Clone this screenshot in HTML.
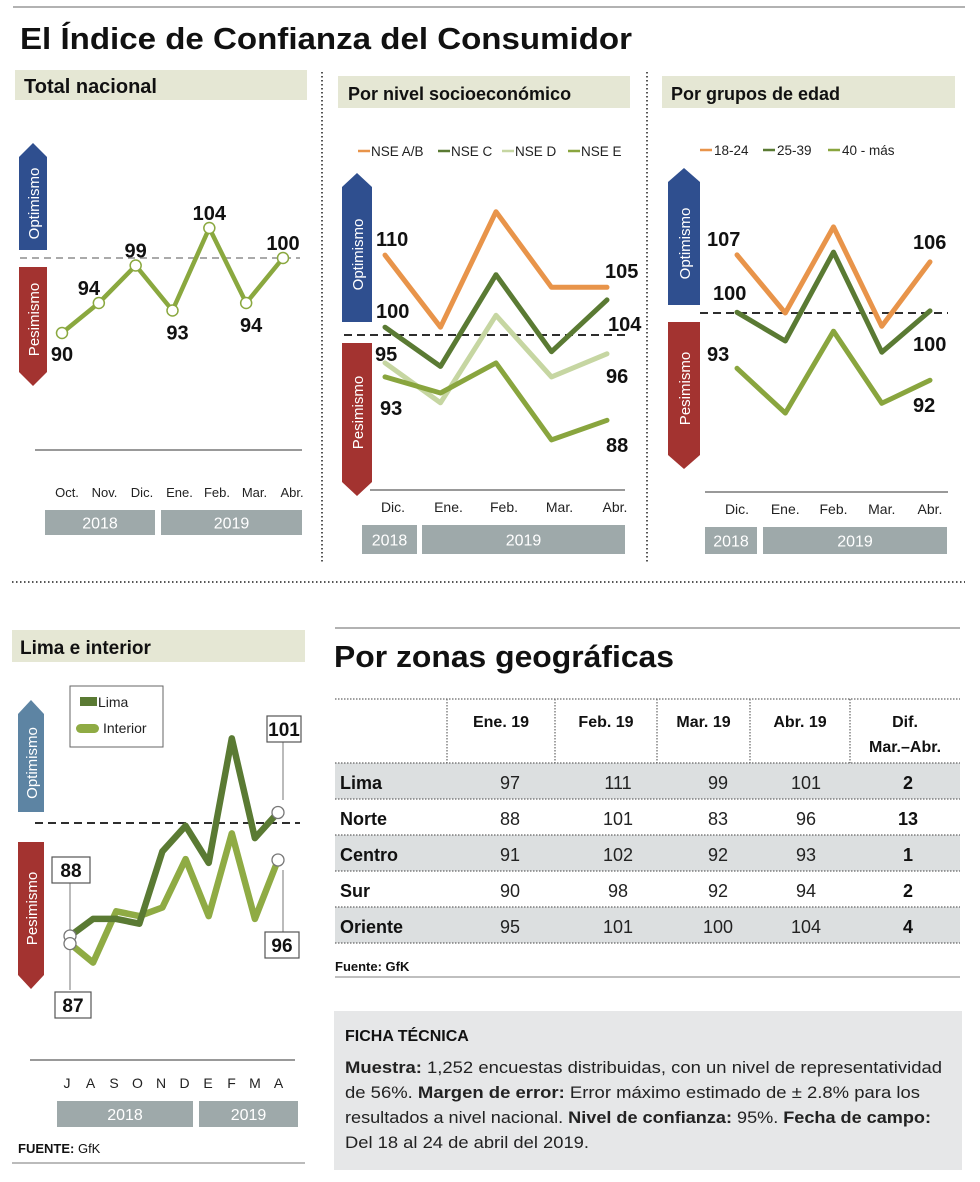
<!DOCTYPE html>
<html><head><meta charset="utf-8">
<style>
html,body{margin:0;padding:0;background:#fff;}
svg{display:block;font-family:"Liberation Sans",sans-serif;}
.b{font-weight:bold;}
</style></head>
<body>
<svg id="s" width="980" height="1182" viewBox="0 0 980 1182" xmlns="http://www.w3.org/2000/svg">
<line x1="13" y1="7" x2="965" y2="7" stroke="#999" stroke-width="1.5"/>
<text x="20" y="49" font-size="31" class="b" fill="#111" textLength="612" lengthAdjust="spacingAndGlyphs">El Índice de Confianza del Consumidor</text>

<line x1="322" y1="72" x2="322" y2="562" stroke="#555" stroke-width="2" stroke-dasharray="1.5,2.5"/>
<line x1="647" y1="72" x2="647" y2="562" stroke="#555" stroke-width="2" stroke-dasharray="1.5,2.5"/>
<line x1="12" y1="582" x2="965" y2="582" stroke="#555" stroke-width="2" stroke-dasharray="1.5,2.5"/>

<!-- headers -->
<rect x="15" y="70" width="292" height="30" fill="#e5e7d4"/>
<text x="24" y="93" font-size="20" class="b" fill="#111">Total nacional</text>
<rect x="338" y="76" width="292" height="32" fill="#e5e7d4"/>
<text x="348" y="100" font-size="18" class="b" fill="#111">Por nivel socioeconómico</text>
<rect x="662" y="76" width="293" height="32" fill="#e5e7d4"/>
<text x="671" y="100" font-size="18" class="b" fill="#111">Por grupos de edad</text>
<rect x="12" y="630" width="293" height="32" fill="#e5e7d4"/>
<text x="20" y="654" font-size="19" class="b" fill="#111">Lima e interior</text>

<g id="g1"></g><g id="g2"></g><g id="g3"></g><g id="g4"></g>

<!-- table -->
<line x1="335" y1="628" x2="960" y2="628" stroke="#999" stroke-width="1.5"/>
<text x="334" y="667" font-size="31" class="b" fill="#111" textLength="340" lengthAdjust="spacingAndGlyphs">Por zonas geográficas</text>
<g id="tbl"></g>

<!-- ficha -->
<rect x="334" y="1011" width="628" height="159" fill="#e6e7e8"/>
<text x="345" y="1041" font-size="16" class="b" fill="#111">FICHA TÉCNICA</text>
<g font-size="16.5" fill="#222">
<text x="345" y="1073" textLength="597" lengthAdjust="spacingAndGlyphs"><tspan class="b">Muestra:</tspan> 1,252 encuestas distribuidas, con un nivel de representatividad</text>
<text x="345" y="1098" textLength="575" lengthAdjust="spacingAndGlyphs">de 56%. <tspan class="b">Margen de error:</tspan> Error máximo estimado de ± 2.8% para los</text>
<text x="345" y="1123" textLength="586" lengthAdjust="spacingAndGlyphs">resultados a nivel nacional. <tspan class="b">Nivel de confianza:</tspan> 95%. <tspan class="b">Fecha de campo:</tspan></text>
<text x="345" y="1148" textLength="244" lengthAdjust="spacingAndGlyphs">Del 18 al 24 de abril del 2019.</text>
</g>
<text x="18" y="1153" font-size="13" fill="#111"><tspan class="b">FUENTE:</tspan> GfK</text>
<line x1="12" y1="1163" x2="305" y2="1163" stroke="#777" stroke-width="1"/>
</svg>
<script>
// ---- data ----
const totalMonths = ["Oct.","Nov.","Dic.","Ene.","Feb.","Mar.","Abr."];
const totalValues = [90,94,99,93,104,94,100];
const totalLabels = ["90","94","99","93","104","94","100"];

const nseMonths = ["Dic.","Ene.","Feb.","Mar.","Abr."];
const nseAB = [110.7,100.4,116.9,106.1,106.1];
const nseC = [100.4,94.8,107.9,96.9,104.3];
const nseD = [95.3,89.6,102.1,93.3,96.6];
const nseE = [93.3,91.0,95.3,84.3,87.1];
const nseNames = ["NSE A/B","NSE C","NSE D","NSE E"];

const ageMonths = ["Dic.","Ene.","Feb.","Mar.","Abr."];
const age1824 = [108.3,100.0,112.3,98.1,107.3];
const age2539 = [100.1,96.0,108.7,94.4,100.3];
const age40 = [92.1,85.7,97.4,87.1,90.4];
const ageNames = ["18-24","25-39","40 - más"];

const limaMonths = ["J","A","S","O","N","D","E","F","M","A"];
const limaValues = [88,89.8,89.8,89.3,96.9,99.6,95.7,108.8,98.3,101];
const interiorValues = [87.2,85.2,90.6,90.1,91,96.1,90.1,98.8,89.8,96];

const zoneNames = ["Lima","Norte","Centro","Sur","Oriente"];
const zoneEne = [97,88,91,90,95];
const zoneFeb = [111,101,102,98,101];
const zoneMar = [99,83,92,92,100];
const zoneAbr = [101,96,93,94,104];
const zoneDif = [2,13,1,2,4];

// ---- helpers ----
const NS="http://www.w3.org/2000/svg";
function mk(parent,tag,attrs,text){const e=document.createElementNS(NS,tag);for(const k in attrs)e.setAttribute(k,attrs[k]);if(text!==undefined)e.textContent=text;parent.appendChild(e);return e;}
function lin(d0,d1,r0,r1){return v=>r0+(v-d0)*(r1-r0)/(d1-d0);}
function pathD(xs,vals,y){return vals.map((v,i)=>(i?"L":"M")+xs(i).toFixed(1)+","+y(v).toFixed(1)).join(" ");}
function arrowUp(g,x,y0,y1,w,col,label,nm){
  const p=mk(g,"path",{d:`M${x},${y1} L${x},${y0+14} L${x+w/2},${y0} L${x+w},${y0+14} L${x+w},${y1} Z`,fill:col});
  
  
  const cx=x+w/2+6, cy=(y0+14+y1)/2;
  mk(g,"text",{x:cx,y:cy,transform:`rotate(-90 ${cx} ${cy})`,"text-anchor":"middle","font-size":15,fill:"#fff"},label);
}
function arrowDown(g,x,y0,y1,w,col,label,nm){
  const p=mk(g,"path",{d:`M${x},${y0} L${x+w},${y0} L${x+w},${y1-14} L${x+w/2},${y1} L${x},${y1-14} Z`,fill:col});
  
  
  const cx=x+w/2+6, cy=(y0+y1-14)/2;
  mk(g,"text",{x:cx,y:cy,transform:`rotate(-90 ${cx} ${cy})`,"text-anchor":"middle","font-size":15,fill:"#fff"},label);
}
function yearBars(g,y,h,bars){bars.forEach(b=>{const r=mk(g,"rect",{x:b[0],y:y,width:b[1]-b[0],height:h,fill:"#9ea9aa"});
  
  
  mk(g,"text",{x:(b[0]+b[1])/2,y:y+h/2+6,"text-anchor":"middle","font-size":16,fill:"#fff"},b[2]);});}
function series(g,xs,vals,y,col,w,nm){const p=mk(g,"path",{d:pathD(xs,vals,y),fill:"none",stroke:col,"stroke-width":w,"stroke-linejoin":"round","stroke-linecap":"round"});
  
  return p;}

// ---- chart 1: total nacional ----
(function(){
const g=document.getElementById("g1");
const x=lin(0,6,62,283), y=lin(100,104,258,228);
arrowUp(g,19,143,250,28,"#2f4f8f","Optimismo","optimism-arrow");
arrowDown(g,19,267,386,28,"#a33330","Pesimismo","pessimism-arrow");
mk(g,"line",{x1:20,x2:300,y1:y(100),y2:y(100),stroke:"#aaa","stroke-width":2,"stroke-dasharray":"7,5"});
series(g,x,totalValues,y,"#8aa83f",4.5,"total-line");
const off=[[0,22],[-10,-14],[0,-14],[5,23],[0,-14],[5,23],[0,-14]];
totalValues.forEach((v,i)=>{const c=mk(g,"circle",{cx:x(i),cy:y(v),r:5.5,fill:"#fff",stroke:"#8aa83f","stroke-width":1.5});
  
  
  mk(g,"text",{x:x(i)+off[i][0],y:y(v)+off[i][1]+6,"text-anchor":"middle","font-size":20,"font-weight":"bold",fill:"#111"},totalLabels[i]);});
mk(g,"line",{x1:35,x2:302,y1:450,y2:450,stroke:"#333","stroke-width":1});
totalMonths.forEach((m,i)=>mk(g,"text",{x:67+i*37.5,y:497,"text-anchor":"middle","font-size":13,fill:"#222"},m));
yearBars(g,510,25,[[45,155,"2018"],[161,302,"2019"]]);
})();

// ---- chart 2: NSE ----
(function(){
const g=document.getElementById("g2");
const x=lin(0,4,385,607), y=lin(100,110,330,260);
arrowUp(g,342,173,322,30,"#2f4f8f","Optimismo","nse-optimism-arrow");
arrowDown(g,342,343,496,30,"#a33330","Pesimismo","nse-pessimism-arrow");
mk(g,"line",{x1:344,x2:625,y1:335,y2:335,stroke:"#111","stroke-width":1.8,"stroke-dasharray":"8,5"});
const cols=["#e8944a","#5a7a33","#c6d6a2","#89a53e"];
const sets=[nseAB,nseC,nseD,nseE];
[2,3,1,0].forEach(k=>series(g,x,sets[k],y,cols[k],5,"nse-line-"+k));
const lx=[358,438,502,568];
nseNames.forEach((n,i)=>{mk(g,"line",{x1:lx[i],x2:lx[i]+12,y1:151,y2:151,stroke:cols[i],"stroke-width":2.5});
  const t=mk(g,"text",{x:lx[i]+13,y:156,"font-size":13.5,fill:"#222"},n);
  
  });
const lab=[["110",376,246],["100",376,318],["95",375,361],["93",380,415],["105",605,278],["104",608,331],["96",606,383],["88",606,452]];
lab.forEach(l=>mk(g,"text",{x:l[1],y:l[2],"font-size":20,"font-weight":"bold",fill:"#111"},l[0]));
mk(g,"line",{x1:370,x2:625,y1:490,y2:490,stroke:"#333","stroke-width":1});
nseMonths.forEach((m,i)=>mk(g,"text",{x:x(i)+8,y:512,"text-anchor":"middle","font-size":14,fill:"#222"},m));
yearBars(g,525,29,[[362,417,"2018"],[422,625,"2019"]]);
})();

// ---- chart 3: age ----
(function(){
const g=document.getElementById("g3");
const x=lin(0,4,737,930), y=lin(100,110,313,243);
arrowUp(g,668,168,305,32,"#2f4f8f","Optimismo","age-optimism-arrow");
arrowDown(g,668,322,469,32,"#a33330","Pesimismo","age-pessimism-arrow");
mk(g,"line",{x1:700,x2:948,y1:313,y2:313,stroke:"#111","stroke-width":1.8,"stroke-dasharray":"8,5"});
const cols=["#e8944a","#5a7a33","#89a53e"];
const sets=[age1824,age2539,age40];
[2,1,0].forEach(k=>series(g,x,sets[k],y,cols[k],5,"age-line-"+k));
const lx=[700,763,828];
ageNames.forEach((n,i)=>{mk(g,"line",{x1:lx[i],x2:lx[i]+12,y1:150,y2:150,stroke:cols[i],"stroke-width":2.5});
  const t=mk(g,"text",{x:lx[i]+14,y:155,"font-size":13.5,fill:"#222"},n);
  
  });
const lab=[["107",707,246],["100",713,300],["93",707,361],["106",913,249],["100",913,351],["92",913,412]];
lab.forEach(l=>mk(g,"text",{x:l[1],y:l[2],"font-size":20,"font-weight":"bold",fill:"#111"},l[0]));
mk(g,"line",{x1:705,x2:948,y1:492,y2:492,stroke:"#333","stroke-width":1});
ageMonths.forEach((m,i)=>mk(g,"text",{x:x(i),y:514,"text-anchor":"middle","font-size":14,fill:"#222"},m));
yearBars(g,527,27,[[705,757,"2018"],[763,947,"2019"]]);
})();

// ---- chart 4: Lima e interior ----
(function(){
const g=document.getElementById("g4");
const x=lin(0,9,70,278), y=lin(100,101,822,812.5);
arrowUp(g,18,700,812,26,"#5d84a3","Optimismo","lima-optimism-arrow");
arrowDown(g,18,842,989,26,"#a33330","Pesimismo","lima-pessimism-arrow");
mk(g,"line",{x1:35,x2:300,y1:823,y2:823,stroke:"#111","stroke-width":1.8,"stroke-dasharray":"8,5"});
// legend
mk(g,"rect",{x:70,y:686,width:93,height:61,fill:"#fff",stroke:"#666","stroke-width":1});
mk(g,"rect",{x:80,y:697,width:17,height:9,fill:"#5a7a33"});
mk(g,"text",{x:98,y:707,"font-size":14,fill:"#222"},"Lima");
mk(g,"rect",{x:76,y:724,width:23,height:9,rx:4.5,fill:"#8fab44"});
mk(g,"text",{x:103,y:733,"font-size":14,fill:"#222"},"Interior");
// callout lines
mk(g,"line",{x1:70,x2:70,y1:880,y2:990,stroke:"#777","stroke-width":1});
mk(g,"line",{x1:283,x2:283,y1:742,y2:800,stroke:"#777","stroke-width":1});
mk(g,"line",{x1:283,x2:283,y1:870,y2:932,stroke:"#777","stroke-width":1});
series(g,x,interiorValues,y,"#8fab44",6.5,"interior-line");
series(g,x,limaValues,y,"#5a7a33",6.5,"lima-line");
[[limaValues,"#5a7a33"],[interiorValues,"#8fab44"]].forEach(s=>{
  [0,9].forEach(i=>{const c=mk(g,"circle",{cx:x(i),cy:y(s[0][i]),r:6,fill:"#fff",stroke:"#777","stroke-width":1.3});
  
  });});
const boxes=[["88",52,857,38,26],["87",55,992,36,26],["101",267,716,34,26],["96",265,932,34,26]];
boxes.forEach(b=>{mk(g,"rect",{x:b[1],y:b[2],width:b[3],height:b[4],fill:"#fff",stroke:"#555","stroke-width":1.2});
  mk(g,"text",{x:b[1]+b[3]/2,y:b[2]+20,"text-anchor":"middle","font-size":19,"font-weight":"bold",fill:"#111"},b[0]);});
mk(g,"line",{x1:30,x2:295,y1:1060,y2:1060,stroke:"#333","stroke-width":1});
limaMonths.forEach((m,i)=>mk(g,"text",{x:67+i*23.5,y:1088,"text-anchor":"middle","font-size":14,fill:"#222"},m));
yearBars(g,1101,26,[[57,193,"2018"],[199,298,"2019"]]);
})();

// ---- table ----
(function(){
const g=document.getElementById("tbl");
const colX=[335,447,555,657,750,850,960];
const hdr=["Ene. 19","Feb. 19","Mar. 19","Abr. 19"];
mk(g,"line",{x1:335,x2:960,y1:699,y2:699,stroke:"#666","stroke-width":1.2,"stroke-dasharray":"1.5,1.5"});
for(let c=1;c<6;c++) mk(g,"line",{x1:colX[c],x2:colX[c],y1:699,y2:763,stroke:"#666","stroke-width":1.2,"stroke-dasharray":"1.5,1.5"});
hdr.forEach((h,i)=>mk(g,"text",{x:(colX[i+1]+colX[i+2])/2,y:727,"text-anchor":"middle","font-size":16,"font-weight":"bold",fill:"#111"},h));
mk(g,"text",{x:905,y:727,"text-anchor":"middle","font-size":16,"font-weight":"bold",fill:"#111"},"Dif.");
mk(g,"text",{x:905,y:752,"text-anchor":"middle","font-size":16,"font-weight":"bold",fill:"#111"},"Mar.–Abr.");
const cols=[zoneEne,zoneFeb,zoneMar,zoneAbr];
const cx=[510,618,718,806];
zoneNames.forEach((z,r)=>{const y0=763+r*36;
  if(r%2===0){const bg=mk(g,"rect",{x:335,y:y0,width:625,height:36,fill:"#dcdfe0"});
    
    }
  mk(g,"line",{x1:335,x2:960,y1:y0,y2:y0,stroke:"#666","stroke-width":1.2,"stroke-dasharray":"1.5,1.5"});
  const t=mk(g,"text",{x:340,y:y0+26,"font-size":18,"font-weight":"bold",fill:"#111"},z);
  
  
  cols.forEach((c,i)=>mk(g,"text",{x:cx[i],y:y0+26,"text-anchor":"middle","font-size":18,fill:"#222"},c[r]));
  mk(g,"text",{x:908,y:y0+26,"text-anchor":"middle","font-size":18,"font-weight":"bold",fill:"#111"},zoneDif[r]);
});
mk(g,"line",{x1:335,x2:960,y1:943,y2:943,stroke:"#666","stroke-width":1.2,"stroke-dasharray":"1.5,1.5"});
mk(g,"text",{x:335,y:971,"font-size":13,"font-weight":"bold",fill:"#111"},"Fuente: GfK");
mk(g,"line",{x1:335,x2:960,y1:977,y2:977,stroke:"#999","stroke-width":1.2});
})();
</script>
</body></html>
